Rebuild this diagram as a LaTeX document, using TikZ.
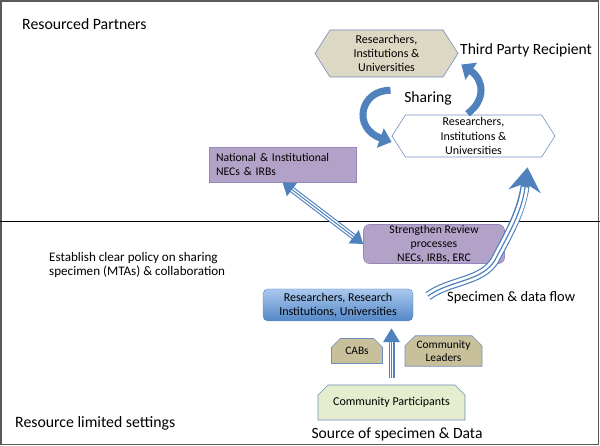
\documentclass[tikz,border=0pt]{standalone}
\usepackage{fontspec}
\setmainfont{Carlito}
\usepackage{tikz}
\usetikzlibrary{arrows.meta,shapes.symbols,shapes.misc,calc}
\definecolor{arrowblue}{RGB}{79,129,189}
\definecolor{hexborder}{RGB}{112,142,192}
\definecolor{tanfill}{RGB}{221,216,195}
\definecolor{cabfill}{RGB}{200,192,155}
\definecolor{lilac}{RGB}{179,162,199}
\definecolor{lilacline}{RGB}{150,135,185}
\definecolor{greenfill}{RGB}{228,237,206}
\definecolor{boxtop}{RGB}{170,200,238}
\definecolor{boxbottom}{RGB}{84,136,200}
\definecolor{framegray}{RGB}{90,90,90}

\begin{document}
\begin{tikzpicture}[x=1pt, y=-1pt,
		hexbox/.style={signal, signal to=east and west, signal pointer angle=115, draw=hexborder, line width=0.6pt, align=center, inner sep=0pt, font=\fontsize{12}{14.3}\selectfont},
		lilacbox/.style={draw=lilacline, fill=lilac, line width=0.6pt, inner sep=0pt, font=\fontsize{11.7}{14.2}\selectfont},
		snipbox/.style={chamfered rectangle, chamfered rectangle corners={north west, north east}, chamfered rectangle xsep=5pt, chamfered rectangle ysep=5pt, draw=hexborder, line width=0.6pt, inner sep=0pt, align=center},
		bigtext/.style={inner sep=0pt, font=\fontsize{15.6}{18}\selectfont},
		sidetext/.style={inner sep=0pt, anchor=west, font=\fontsize{15.8}{18}\selectfont},
		sharearrow/.style={draw=arrowblue, line width=7pt, -{Triangle[width=20pt, length=12pt]}},
	]
		\useasboundingbox (0,0) rectangle (600,446);
		\draw[framegray, line width=1.5pt] (1,1) rectangle (598.5,444.5);
		\draw[line width=1pt] (0,222) -- (600,222);

		\node[sidetext] (partners) at (22,24) {Resourced Partners};
		\node[sidetext] (limited) at (15,423) {Resource limited settings};
		\node[hexbox, fill=tanfill, minimum width=143pt, minimum height=47pt] (tophex) at (386.5,53.5) {Researchers,\\Institutions \&\\Universities};
		\node[hexbox, fill=white, minimum width=163pt, minimum height=42pt] (lowhex) at (473.5,136) {Researchers,\\Institutions \&\\Universities};
		\node[bigtext, anchor=west] (third) at (460,50) {Third Party Recipient};
		\node[bigtext] (sharing) at (428,98) {Sharing};
		\node[lilacbox, minimum width=147pt, minimum height=35pt, text width=133pt, align=left] (natl) at (282.5,164.5) {National \& Institutional\\NECs \& IRBs};
		\node[lilacbox, rounded corners=6pt, minimum width=141pt, minimum height=39pt, align=center] (review) at (434,244) {Strengthen Review\\processes\\NECs, IRBs, ERC};
		\node[inner sep=0pt, anchor=west, align=left, font=\fontsize{13.1}{14.7}\selectfont] (policy) at (49,265) {Establish clear policy on sharing\\specimen (MTAs) \& collaboration};
		\node[draw=boxbottom, rounded corners=5pt, top color=boxtop, bottom color=boxbottom, minimum width=150pt, minimum height=32pt, inner sep=0pt, align=center, font=\fontsize{12}{14}\selectfont] (res) at (338,305) {Researchers, Research\\Institutions, Universities};
		\node[inner sep=0pt, anchor=west, font=\fontsize{14.4}{17}\selectfont] (flowtext) at (447,298) {Specimen \& data flow};
		\node[snipbox, fill=cabfill, minimum width=51pt, minimum height=25pt, font=\fontsize{11.4}{12.5}\selectfont] (cabs) at (357,351) {CABs};
		\node[snipbox, fill=cabfill, minimum width=77pt, minimum height=25pt, font=\fontsize{11.4}{12.5}\selectfont] (leaders) at (443.5,351) {Community\\Leaders};
		\node[snipbox, fill=greenfill, minimum width=147pt, minimum height=35pt, font=\fontsize{12}{13}\selectfont] (partic) at (391.5,402.5) {Community Participants};
		\node[bigtext] (source) at (397,434) {Source of specimen \& Data};

		\coordinate (shareA) at ($(tophex.south)+(4,13)$);
		\coordinate (shareB) at ($(lowhex.west)+(0,6)$);
		\coordinate (shareC) at ($(lowhex.north)+(-6,-1)$);
		\coordinate (shareD) at ($(tophex.east)+(3,11)$);
		\draw[sharearrow] (shareA) .. controls (360,90) and (352,128) .. (shareB);
		\draw[sharearrow] (shareC) .. controls (486,100) and (484,80) .. (shareD);

		\coordinate (flowtail) at (428,296);
		\coordinate (flowtip) at ($(lowhex.south)+(54,10)$);
		\draw[arrowblue, line width=9pt, -{Stealth[width=32pt, length=24pt, inset=8pt]}] (flowtail) .. controls (450,280) and (482,282) .. (495,260) .. controls (508,235) and (522,212) .. (flowtip);
		\foreach \w/\c in {6.6/white, 1.2/arrowblue}
			\draw[\c, line width=\w pt, shorten >=20pt] (flowtail) .. controls (450,280) and (482,282) .. (495,260) .. controls (508,235) and (522,212) .. (flowtip);

		\draw[arrowblue, line width=6pt, {Triangle[width=16pt, length=12pt]}-{Triangle[width=16pt, length=12pt]}] (natl.south) -- (review.west);
		\foreach \w/\c in {3.8/white, 1/arrowblue}
			\draw[\c, line width=\w pt, shorten >=12pt, shorten <=12pt] (natl.south) -- (review.west);

		\coordinate (upbase) at ($(partic.north)+(0,-7)$);
		\coordinate (uptip) at ($(partic.north |- res.south)+(0,7)$);
		\draw[arrowblue, line width=6pt, -{Triangle[width=16pt, length=14pt]}] (upbase) -- (uptip);
		\foreach \w/\c in {3.8/white, 1/arrowblue}
			\draw[\c, line width=\w pt, shorten >=14pt] (upbase) -- (uptip);
	\end{tikzpicture}
\end{document}
